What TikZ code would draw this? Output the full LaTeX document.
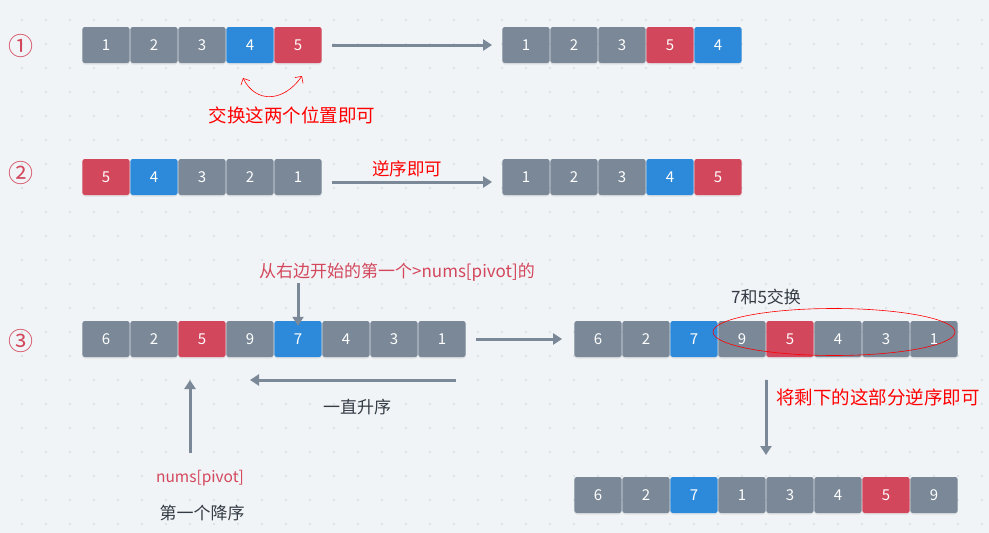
\documentclass[tikz,border=0pt]{standalone}
\usepackage{fontspec}
\setmainfont{Noto Sans CJK SC}
\usetikzlibrary{arrows.meta,shadows}
\definecolor{paper}{HTML}{F1F4F7}
\definecolor{griddot}{HTML}{C9D0D7}
\definecolor{cellgray}{HTML}{7A8898}
\definecolor{cellblue}{HTML}{2D89DA}
\definecolor{cellred}{HTML}{D3475C}
\definecolor{arrowgray}{HTML}{7A8897}
\definecolor{inkdark}{HTML}{333B44}
\definecolor{inkpink}{HTML}{D3475C}

\begin{document}
\begin{tikzpicture}[x=1pt,y=-1pt,
    cell/.style={minimum width=47.4pt,minimum height=36pt,inner sep=0pt,rounded corners=2.5pt,
      text=white,font=\fontsize{15}{15}\selectfont,
      drop shadow={opacity=0.15,shadow xshift=0pt,shadow yshift=-1.5pt}},
    gc/.style={cell,fill=cellgray},
    bc/.style={cell,fill=cellblue},
    rc/.style={cell,fill=cellred},
    flow/.style={-{Triangle[width=11pt,length=9pt]},line width=3pt,draw=arrowgray},
    stepno/.style={text=inkpink,font=\fontsize{25}{25}\selectfont},
    note/.style={font=\fontsize{17}{17}\selectfont,inner sep=1pt},
    hint/.style={text=red,font=\fontsize{18.5}{18.5}\selectfont,inner sep=1pt}]

    \useasboundingbox (0,0) rectangle (989,533);
    \fill[paper] (0,0) rectangle (989,533);
    \foreach \i in {0,...,40} \foreach \j in {0,...,21}
      \fill[griddot] (22+24*\i,20+24*\j) circle (0.8pt);

    % step numbers
    \node[stepno] (n1) at (21,46) {①};
    \node[stepno] (n2) at (21,173) {②};
    \node[stepno] (n3) at (21,341) {③};

    % step 1
    \node[gc] (a1) at (106,45) {1};
    \node[gc] (a2) at (154,45) {2};
    \node[gc] (a3) at (202,45) {3};
    \node[bc] (a4) at (250,45) {4};
    \node[rc] (a5) at (298,45) {5};
    \node[gc] (b1) at (526,45) {1};
    \node[gc] (b2) at (574,45) {2};
    \node[gc] (b3) at (622,45) {3};
    \node[rc] (b4) at (670,45) {5};
    \node[bc] (b5) at (718,45) {4};
    \path[flow] (a5.east) [shorten <=10pt,shorten >=10pt] -- (b1.west);
    \coordinate (sw4) at (243,78);
    \coordinate (sw5) at (302,76);
    \draw[red,line width=0.6pt,{Straight Barb[length=5pt]}-{Straight Barb[length=5pt]}]
      (sw4) .. controls (256,104) and (284,102) .. (sw5);
    \node[hint] (swap) at (292,115) {交换这两个位置即可};

    % step 2
    \node[rc] (c1) at (106,177) {5};
    \node[bc] (c2) at (154,177) {4};
    \node[gc] (c3) at (202,177) {3};
    \node[gc] (c4) at (250,177) {2};
    \node[gc] (c5) at (298,177) {1};
    \node[gc] (d1) at (526,177) {1};
    \node[gc] (d2) at (574,177) {2};
    \node[gc] (d3) at (622,177) {3};
    \node[bc] (d4) at (670,177) {4};
    \node[rc] (d5) at (718,177) {5};
    \path[flow] ([yshift=-5pt]c5.east) [shorten <=10pt,shorten >=10pt] -- ([yshift=-5pt]d1.west);
    \node[hint,font=\fontsize{17.5}{17.5}\selectfont] (rev) at (407,169) {逆序即可};

    % step 3
    \node[gc] (e1) at (106,339) {6};
    \node[gc] (e2) at (154,339) {2};
    \node[rc] (e3) at (202,339) {5};
    \node[gc] (e4) at (250,339) {9};
    \node[bc] (e5) at (298,339) {7};
    \node[gc] (e6) at (346,339) {4};
    \node[gc] (e7) at (394,339) {3};
    \node[gc] (e8) at (442,339) {1};
    \node[gc] (f1) at (598,339) {6};
    \node[gc] (f2) at (646,339) {2};
    \node[bc] (f3) at (694,339) {7};
    \node[gc] (f4) at (742,339) {9};
    \node[rc] (f5) at (790,339) {5};
    \node[gc] (f6) at (838,339) {4};
    \node[gc] (f7) at (886,339) {3};
    \node[gc] (f8) at (934,339) {1};
    \node[gc] (g1) at (598,495) {6};
    \node[gc] (g2) at (646,495) {2};
    \node[bc] (g3) at (694,495) {7};
    \node[gc] (g4) at (742,495) {1};
    \node[gc] (g5) at (790,495) {3};
    \node[gc] (g6) at (838,495) {4};
    \node[rc] (g7) at (886,495) {5};
    \node[gc] (g8) at (934,495) {9};

    \node[note,text=inkpink] (bigger) at (397,272) {从右边开始的第一个>nums[pivot]的};
    \coordinate (down7) at (298,283);
    \path[flow] (down7) -- ([yshift=-5pt]e5.north);

    \path[flow] (e8.east) [shorten <=10pt,shorten >=12pt] -- (f1.west);

    \coordinate (ascR) at (456,380);
    \coordinate (ascL) at (250,380);
    \path[flow] (ascR) -- (ascL);
    \node[note,text=inkdark] (asc) at (357,407) {一直升序};

    \node[note,text=inkpink,font=\fontsize{15.5}{15.5}\selectfont] (pivot) at (200,478) {nums[pivot]};
    \node[note,text=inkdark] (desc) at (202,513) {第一个降序};
    \coordinate (upTail) at (190,453);
    \coordinate (upHead) at (190,380);
    \path[flow] (upTail) -- (upHead);

    \node[note,text=inkdark] (swap75) at (766,297) {7和5交换};
    \draw[red,line width=0.6pt] (834,332) ellipse (121pt and 23.5pt);

    \coordinate (revTail) at (766,380);
    \coordinate (revHead) at (766,455);
    \path[flow] (revTail) -- (revHead);
    \node[hint] (rest) at (878,397) {将剩下的这部分逆序即可};

\end{tikzpicture}
\end{document}
